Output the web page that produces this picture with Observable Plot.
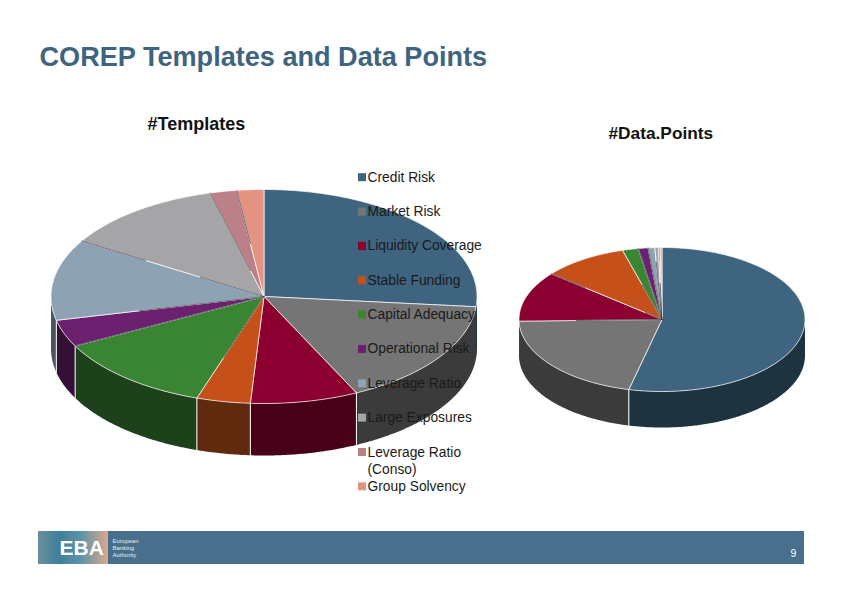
<!DOCTYPE html>
<html><head><meta charset="utf-8">
<style>html,body{margin:0;padding:0;background:#fff}svg{display:block}</style>
<script src="https://cdn.jsdelivr.net/npm/d3@7"></script>
<script src="https://cdn.jsdelivr.net/npm/@observablehq/plot@0.6"></script>
</head><body><div id="c"></div>
<script>
const categories = ["Credit Risk","Market Risk","Liquidity Coverage","Stable Funding","Capital Adequacy","Operational Risk","Leverage Ratio","Large Exposures","Leverage Ratio (Conso)","Group Solvency"];
const legendLabels = ["Credit Risk","Market Risk","Liquidity Coverage","Stable Funding","Capital Adequacy","Operational Risk","Leverage Ratio","Large Exposures","Leverage Ratio\n(Conso)","Group Solvency"];
const templateCounts = [13,8,4,2,6,2,6,6,1,1];
const dataPointShares = [53.7,20.9,11.3,9.6,1.8,1.1,0.75,0.4,0.2,0.2];
const topColors = ["#3F6480","#757575","#8B0030","#C5501A","#3A8533","#6B2070","#8DA3B4","#A5A5A7","#BC8088","#E3937F"];
const sideColors = ["#1E3340","#3B3B3B","#480018","#5F2A0E","#1D411A","#341037","#4A555C","#555556","#5E4044","#71493F"];
const titleText = "COREP Templates and Data Points";
const pageNumber = "9";
// portions of each slice's closing edge that show dark instead of white (fraction of radius from centre)
const leftDarkEdges = [[],[],[],[[0,0.6]],[[0,1]],[[0,0.6]],[[0,0.35],[0.65,1]],[[0.25,1]],[[0.5,1]]];
const rightDarkEdges = [[],[[0,0.6]],[[0,0.15],[0.7,1]],[[0,0.5]],[[0,1]],[[0,1]],[[0,0.8]],[[0,0.5]],[]];

function pie(values, darkEdges, cx, cy, rx, ry, depth) {
  const total = d3.sum(values);
  const tops = [], walls = [], seams = [], dark = [];
  let a0 = 0;
  const pt = (a, dz = 0, f = 1) => ({x: cx + f * rx * Math.sin(a), y: cy - f * ry * Math.cos(a) + dz});
  values.forEach((v, i) => {
    const a1 = a0 + v / total * 2 * Math.PI;
    const n = Math.max(2, Math.ceil((a1 - a0) * 90));
    const key = categories[i];
    const ring = d3.range(n + 1).map(k => pt(a0 + (a1 - a0) * k / n));
    [{x: cx, y: cy}, ...ring, {x: cx, y: cy}].forEach(p => tops.push({...p, key, id: key}));
    const b0 = Math.max(a0, Math.PI / 2), b1 = Math.min(a1, 3 * Math.PI / 2);
    if (b1 > b0) {
      const m = Math.max(2, Math.ceil((b1 - b0) * 90));
      const arc = d3.range(m + 1).map(k => b0 + (b1 - b0) * k / m);
      const poly = [...arc.map(a => pt(a)), ...arc.slice().reverse().map(a => pt(a, depth))];
      poly.push(poly[0]);
      poly.forEach(p => walls.push({...p, key: key + " side", id: key}));
    }
    if (a1 > 1.8 && a1 < 4.6) {
      seams.push({...pt(a1), id: key}, {...pt(a1, depth), id: key});
    }
    (darkEdges[i] || []).forEach(([f0, f1], j) => {
      dark.push({...pt(a1, 0, f0), id: key + j}, {...pt(a1, 0, f1), id: key + j});
    });
    a0 = a1;
  });
  return {tops, walls, seams, dark};
}
const left = pie(templateCounts, leftDarkEdges, 263.5, 296, 213, 107, 52);
const right = pie(dataPointShares, rightDarkEdges, 661.5, 319, 143, 72, 36);

const legend = legendLabels.map((label, i) => ({label, cat: categories[i], y: 177.2 + i * 34.35}));
const font = "Liberation Sans, Arial, sans-serif";
const gradient = () => {
  const s = d3.create("svg:defs");
  const g = s.append("linearGradient").attr("id", "logo");
  [[0,"#6C8F9F"],[0.3,"#3F7F9B"],[0.62,"#5F93A6"],[1,"#DDA88C"]].forEach(([o,c]) => g.append("stop").attr("offset", o).attr("stop-color", c));
  return s.node();
};

const slices = (p) => [
  Plot.line(p.walls, {x:"x", y:"y", z:"id", fill:"key", stroke:"none", curve:"linear"}),
  Plot.line(p.seams, {x:"x", y:"y", z:"id", stroke:"#fff", strokeWidth:1, curve:"linear"}),
  Plot.line(p.tops, {x:"x", y:"y", z:"id", fill:"key", stroke:"#fff", strokeWidth:0.7, curve:"linear", strokeLinejoin:"round"}),
  Plot.line(p.dark, {x:"x", y:"y", z:"id", stroke:"#3a3540", strokeWidth:0.7, curve:"linear"})
];

const chart = Plot.plot({
  width: 842, height: 595, margin: 0,
  style: {background: "#fff", fontFamily: font},
  x: {domain: [0, 842], range: [0, 842], axis: null},
  y: {domain: [0, 595], range: [0, 595], axis: null},
  color: {domain: [...categories, ...categories.map(c => c + " side")], range: [...topColors, ...sideColors], legend: false},
  marks: [
    gradient,
    ...slices(left),
    ...slices(right),
    Plot.rect(legend, {x1: () => 358, x2: () => 366, y1: d => d.y - 4, y2: d => d.y + 4, fill: "cat"}),
    Plot.text(legend, {x: () => 367, y: "y", text: "label", textAnchor: "start", lineAnchor: "top", dy: -8, fontSize: 13.8, lineHeight: 1.23, fill: "#1a1a1a"}),
    Plot.text([titleText], {x: () => 39, y: () => 57, text: d => d, textAnchor: "start", fontSize: 27.1, fontWeight: "bold", fill: "#3F6480"}),
    Plot.text(["#Templates"], {x: () => 147, y: () => 124, text: d => d, textAnchor: "start", fontSize: 18, fontWeight: "bold", fill: "#111"}),
    Plot.text(["#Data.Points"], {x: () => 608, y: () => 133, text: d => d, textAnchor: "start", fontSize: 17.3, fontWeight: "bold", fill: "#111"}),
    Plot.rect([0], {x1: () => 38, x2: () => 804, y1: () => 531, y2: () => 564, fill: "#48708C"}),
    Plot.rect([0], {x1: () => 38, x2: () => 108, y1: () => 531, y2: () => 564, fill: "url(#logo)"}),
    Plot.text(["EBA"], {x: () => 59, y: () => 547.5, text: d => d, textAnchor: "start", fontSize: 21, fontWeight: "bold", fill: "#fff"}),
    Plot.text(["European\nBanking\nAuthority"], {x: () => 112, y: () => 547, text: d => d, textAnchor: "start", fontSize: 6, lineHeight: 1.15, fill: "#e4edf2"}),
    Plot.text([pageNumber], {x: () => 793, y: () => 553, text: d => d, textAnchor: "middle", fontSize: 10.5, fill: "#fff"})
  ]
});
document.getElementById("c").append(chart);
</script></body></html>
